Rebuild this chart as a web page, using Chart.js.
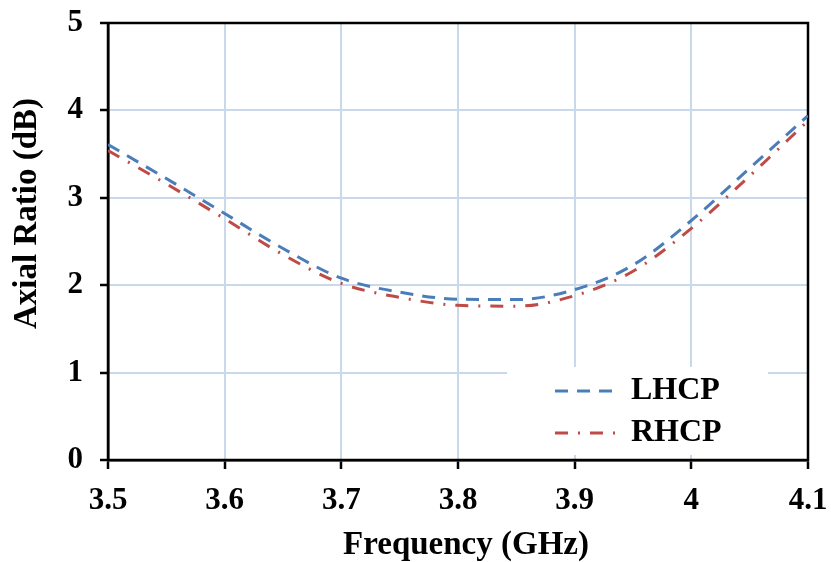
<!DOCTYPE html>
<html>
<head>
<meta charset="utf-8">
<script src="https://cdn.jsdelivr.net/npm/chart.js@4.4.1/dist/chart.umd.min.js"></script>
<style>
  html, body { margin: 0; padding: 0; background: #fff; }
  #wrap { width: 831px; height: 562px; }
</style>
</head>
<body>
<div id="wrap"><canvas id="c" width="831" height="562"></canvas></div>
<script>
// ---- data ----
const frequencies = [3.5, 3.55, 3.6, 3.65, 3.7, 3.75, 3.8, 3.85, 3.9, 3.95, 4.0, 4.05, 4.1];
const lhcp = [3.61, 3.22, 2.82, 2.42, 2.08, 1.92, 1.84, 1.835, 1.95, 2.23, 2.74, 3.34, 3.94];
const rhcp = [3.54, 3.16, 2.76, 2.35, 2.02, 1.86, 1.77, 1.76, 1.88, 2.16, 2.65, 3.25, 3.88];
const seriesNames = ['LHCP', 'RHCP'];
const xTickLabels = ['3.5', '3.6', '3.7', '3.8', '3.9', '4', '4.1'];
const yTickLabels = ['0', '1', '2', '3', '4', '5'];
const xTitle = 'Frequency (GHz)';
const yTitle = 'Axial Ratio (dB)';

const FONT = '"Liberation Serif", "Times New Roman", serif';
const GRID = '#c9d8eb';

const toPts = (ys) => frequencies.map((f, i) => ({ x: f, y: ys[i] }));
const zeroPad = (s) => { s.paddingLeft = 0; s.paddingRight = 0; s.paddingTop = 0; s.paddingBottom = 0; };

const layoutPlugin = {
  id: 'layoutTweaks',
  afterLayout(chart) {
    const lg = chart.legend;
    if (lg) {
      lg.left = 545; lg.top = 365; lg.right = 831; lg.bottom = 562;
      lg.width = lg.right - lg.left; lg.height = lg.bottom - lg.top;
      if (!lg._patched) {
        const orig = lg.draw;
        lg.draw = function (area) {
          const ctx = this.ctx;
          ctx.save();
          ctx.fillStyle = '#ffffff';
          ctx.fillRect(507, 367, 261, 88);
          ctx.restore();
          orig.call(this, area);
        };
        lg._patched = true;
      }
    }
    const ys = chart.scales.y, xs = chart.scales.x;
    [[ys, 0, -28], [xs, 8, 3]].forEach(([s, dx, dy]) => {
      if (s && !s._tpatched) {
        const o = s.drawTitle;
        s.drawTitle = function (a) {
          this.ctx.save();
          this.ctx.translate(dx, dy);
          o.call(this, a);
          this.ctx.restore();
        };
        s._tpatched = true;
      }
    });
  },
  beforeDatasetsDraw(chart) {
    const { ctx, chartArea: a } = chart;
    ctx.save();
    ctx.strokeStyle = '#000';
    ctx.lineWidth = 2.5;
    ctx.strokeRect(a.left, a.top, a.right - a.left, a.bottom - a.top);
    ctx.restore();
  }
};

new Chart(document.getElementById('c'), {
  type: 'line',
  data: {
    datasets: [
      {
        label: seriesNames[0],
        data: toPts(lhcp),
        borderColor: '#4a7ebb',
        borderWidth: 3,
        borderDash: [13, 9],
        pointRadius: 0,
        cubicInterpolationMode: 'monotone',
        fill: false
      },
      {
        label: seriesNames[1],
        data: toPts(rhcp),
        borderColor: '#be4b48',
        borderWidth: 3,
        borderDash: [13, 10, 2, 10],
        pointRadius: 0,
        cubicInterpolationMode: 'monotone',
        fill: false
      }
    ]
  },
  options: {
    responsive: false,
    animation: false,
    devicePixelRatio: 1,
    layout: { padding: { left: 0, right: 23, top: 23, bottom: 0 } },
    plugins: {
      legend: {
        position: 'chartArea',
        align: 'start',
        labels: {
          usePointStyle: true,
          pointStyle: 'line',
          pointStyleWidth: 60,
          color: '#000',
          padding: 10,
          font: { family: FONT, size: 32, weight: 'bold' },
          generateLabels: (chart) => {
            const items = Chart.defaults.plugins.legend.labels.generateLabels(chart);
            return items.map(it => {
              const ds = chart.data.datasets[it.datasetIndex];
              return Object.assign(it, {
                lineDash: ds.borderDash,
                lineWidth: ds.borderWidth,
                strokeStyle: ds.borderColor,
                fillStyle: ds.borderColor,
                pointStyle: 'line'
              });
            });
          }
        }
      },
      tooltip: { enabled: false }
    },
    scales: {
      x: {
        type: 'linear',
        min: 3.5,
        max: 4.1,
        afterBuildTicks: (s) => { s.ticks = xTickLabels.map(v => ({ value: parseFloat(v) })); },
        afterFit: (s) => { s.height = 102; zeroPad(s); },
        ticks: {
          autoSkip: false,
          maxRotation: 0,
          padding: 13,
          color: '#000',
          font: { family: FONT, size: 31, weight: 'bold' },
          callback: (v) => xTickLabels.find(l => Math.abs(parseFloat(l) - v) < 1e-6) ?? ''
        },
        grid: { color: GRID, lineWidth: 2, tickColor: '#000', tickLength: 9, tickWidth: 2.5 },
        border: { color: '#000', width: 2.5 },
        title: {
          display: true,
          text: xTitle,
          color: '#000',
          padding: { top: 0, bottom: 0 },
          font: { family: FONT, size: 33, weight: 'bold' }
        }
      },
      y: {
        min: 0,
        max: 5,
        afterBuildTicks: (s) => { s.ticks = yTickLabels.map(v => ({ value: parseFloat(v) })); },
        afterFit: (s) => { s.width = 108; zeroPad(s); },
        ticks: {
          padding: 17,
          color: '#000',
          font: { family: FONT, size: 31, weight: 'bold' },
          callback: (v) => yTickLabels.find(l => Math.abs(parseFloat(l) - v) < 1e-6) ?? ''
        },
        grid: { color: GRID, lineWidth: 2, tickColor: '#000', tickLength: 8, tickWidth: 2.5 },
        border: { color: '#000', width: 2.5 },
        title: {
          display: true,
          text: yTitle,
          color: '#000',
          padding: { top: 8, bottom: 0 },
          font: { family: FONT, size: 33, weight: 'bold' }
        }
      }
    }
  },
  plugins: [layoutPlugin]
});
</script>
</body>
</html>
